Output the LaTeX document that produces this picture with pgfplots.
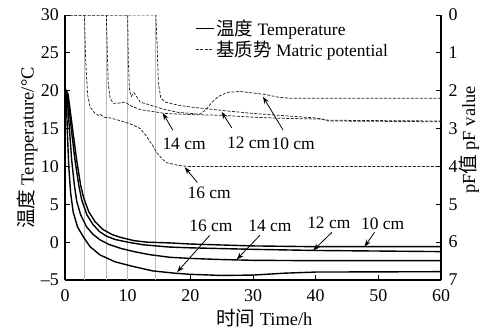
\documentclass[border=0pt]{standalone}
\usepackage{fontspec}
\setmainfont{Liberation Serif}
\newfontfamily\cjk[Scale=1.06]{Noto Sans CJK SC}
\usepackage{pgfplots}
\pgfplotsset{compat=1.18}
\usetikzlibrary{arrows.meta}

\begin{document}
\begin{tikzpicture}
\tikzset{
  ann/.style={-{Stealth[length=7bp,width=5bp]}, line width=0.8bp, black},
  lab/.style={font=\fontsize{17.5}{19}\selectfont},
}
\pgfplotsset{
  every axis/.append style={
    scale only axis, width=376bp, height=265bp,
    xmin=0, xmax=60,
    tick align=inside,
    major tick length=5bp,
    axis line style={-, line width=1.1bp},
    tick style={line width=0.8bp, black},
    tick label style={font=\fontsize{18}{20}\selectfont, inner sep=1bp},
    label style={font=\fontsize{18.5}{20}\selectfont},
    /pgf/number format/assume math mode=true,
  },
  temp/.style={black, line width=1.4bp, no marks},
  mat/.style={black!85, line width=0.75bp, dash pattern=on 3bp off 1.5bp, no marks},
}
\begin{axis}[
  axis x line*=bottom, axis y line*=left,
  ymin=-5, ymax=30,
  ytick={-5,0,5,10,15,20,25,30},
  yticklabels={–5,0,5,10,15,20,25,30},
  yticklabel style={xshift=-5bp},
  xtick={0,10,...,60},
  xticklabel style={yshift=-8bp},
  xlabel={{\cjk 时间} Time/h},
  ylabel={{\cjk 温度} Temperature/°C},
  xlabel style={at={(axis description cs:0.53,0)}, anchor=center, yshift=-38bp},
  ylabel style={at={(axis description cs:-0.1,0.498)}, anchor=center},
  legend style={at={(rel axis cs:0.345,0.99)}, anchor=north west, draw=none, fill=none,
    font=\fontsize{17.5}{19}\selectfont, inner sep=0pt, cells={anchor=west}},
  legend image code/.code={\draw[#1] (0bp,0bp) -- (18bp,0bp);},
]
\addlegendimage{black, line width=1.4bp}
\addlegendentry{{\cjk 温度} Temperature}
\addlegendimage{black!85, line width=0.75bp, dash pattern=on 3bp off 1.5bp}
\addlegendentry{{\cjk 基质势} Matric potential}

% vertical reference lines
\addplot[gray!55, line width=0.7bp, forget plot] coordinates {(3.08,-5) (3.08,30)};
\addplot[gray!55, line width=0.7bp, forget plot] coordinates {(6.65,-5) (6.65,30)};
\addplot[gray!55, line width=0.7bp, forget plot] coordinates {(10.0,-5) (10.0,30)};
\addplot[gray!55, line width=0.7bp, forget plot] coordinates {(14.35,-5) (14.35,30)};

% temperature 10 cm
\addplot[temp, forget plot] coordinates {(0,20.3)(0.5,19.5)(1.2,15)(1.87,10.8)(2.5,7.5)(3.0,5.8)(3.8,4.0)(4.8,2.7)(6,1.7)(7.5,1.0)(9,0.6)(11,0.2)(13,0.0)(16.7,-0.1)(20,-0.25)(30,-0.5)(40,-0.6)(60,-0.6)};
% temperature 12 cm
\addplot[temp, forget plot] coordinates {(0,20.3)(0.4,19.5)(1,15)(1.6,10.8)(2.2,7.5)(2.66,5.6)(3.5,3.6)(4.5,2.3)(5.5,1.4)(6.6,0.8)(8,0.35)(10,0.0)(12.5,-0.35)(16.7,-0.65)(20,-0.75)(30,-0.95)(40,-1.1)(60,-1.25)};
% temperature 14 cm
\addplot[temp, forget plot] coordinates {(0,20.2)(0.3,19.8)(0.7,15)(1.07,10.8)(1.5,7.5)(1.87,5.4)(2.5,3.6)(3.46,2.0)(4.5,1.0)(5.6,0.3)(7,-0.3)(9,-0.85)(11,-1.25)(13.5,-1.65)(16.7,-2.0)(20,-2.15)(25,-2.3)(30,-2.4)(40,-2.45)(60,-2.45)};
% temperature 16 cm
\addplot[temp, forget plot] coordinates {(0,20)(0.2,19.5)(0.4,14)(0.6,10)(0.9,6.5)(1.3,4)(2,2)(3,0.6)(4,-0.6)(5.6,-1.7)(8,-2.6)(10.8,-3.2)(14,-3.8)(17.5,-4.1)(20,-4.25)(25,-4.4)(30,-4.35)(35,-4.1)(40,-3.95)(60,-3.9)};

% annotations
\draw[ann] (axis cs:17.2,14.8) -- (axis cs:15.6,17.05);
\node[lab] at (axis cs:19.0,13.0) {14 cm};
\draw[ann] (axis cs:26.6,15.1) -- (axis cs:25.0,17.2);
\node[lab] at (axis cs:29.3,13.1) {12 cm};
\draw[ann] (axis cs:34.8,14.8) -- (axis cs:31.6,19.2);
\node[lab] at (axis cs:36.4,13.0) {10 cm};
\draw[ann] (axis cs:21.1,7.9) -- (axis cs:19.1,9.9);
\node[lab] at (axis cs:23.0,6.5) {16 cm};

\draw[ann] (axis cs:23.1,0.9) -- (axis cs:17.9,-3.95);
\node[lab] at (axis cs:23.3,2.1) {16 cm};
\draw[ann] (axis cs:31.1,0.9) -- (axis cs:27.4,-2.3);
\node[lab] at (axis cs:32.7,2.1) {14 cm};
\draw[ann] (axis cs:42.6,1.3) -- (axis cs:39.6,-1.1);
\node[lab] at (axis cs:42.1,2.6) {12 cm};
\draw[ann] (axis cs:49.4,1.3) -- (axis cs:47.8,-0.6);
\node[lab] at (axis cs:50.7,2.4) {10 cm};
\end{axis}

\begin{axis}[
  axis x line=none, axis y line*=right,
  ymin=0, ymax=7, y dir=reverse,
  ytick={0,1,...,7},
  yticklabel style={xshift=6.5bp},
  ylabel={pF{\cjk 值} pF value},
  ylabel style={at={(axis description cs:1.074,0.528)}, anchor=center},
]
% matric potential 16 cm
\addplot[mat] coordinates {(0,0)(3.1,0)(3.3,1.2)(3.6,2.1)(4.0,2.43)(4.8,2.6)(5.3,2.65)(5.6,2.62)(6.2,2.7)(7.2,2.72)(9,2.8)(10.8,2.9)(12,3.0)(13,3.2)(14,3.45)(14.7,3.65)(15.5,3.8)(16.2,3.9)(18,3.97)(19.5,4.0)(60,4.0)};
% matric potential 12 cm
\addplot[mat] coordinates {(0,0)(6.6,0)(6.75,1.0)(6.9,1.8)(7.2,2.2)(7.7,2.33)(8.5,2.33)(9.6,2.3)(10.5,2.4)(12,2.5)(14,2.55)(16,2.6)(20,2.63)(25,2.65)(30,2.7)(35,2.73)(41,2.75)(42,2.8)(60,2.82)};
% matric potential 10 cm
\addplot[mat] coordinates {(0,0)(10.0,0)(10.1,1.2)(10.3,2.0)(10.6,2.15)(11,2.05)(11.4,2.15)(12,2.3)(14,2.4)(16,2.5)(18,2.57)(20,2.6)(21.5,2.62)(22.5,2.5)(23.5,2.3)(24.5,2.15)(26,2.04)(28,2.02)(30,2.06)(32,2.1)(34,2.17)(36,2.2)(60,2.2)};
% matric potential 14 cm
\addplot[mat] coordinates {(0,0)(14.5,0)(14.7,0.8)(14.9,1.8)(15.3,2.2)(16,2.3)(18,2.38)(20,2.43)(25,2.52)(30,2.6)(35,2.66)(40,2.72)(42,2.78)(60,2.8)};
\end{axis}
\pgfresetboundingbox
\path[use as bounding box] (-65bp,-49bp) rectangle (421bp,280bp);
\end{tikzpicture}
\end{document}
